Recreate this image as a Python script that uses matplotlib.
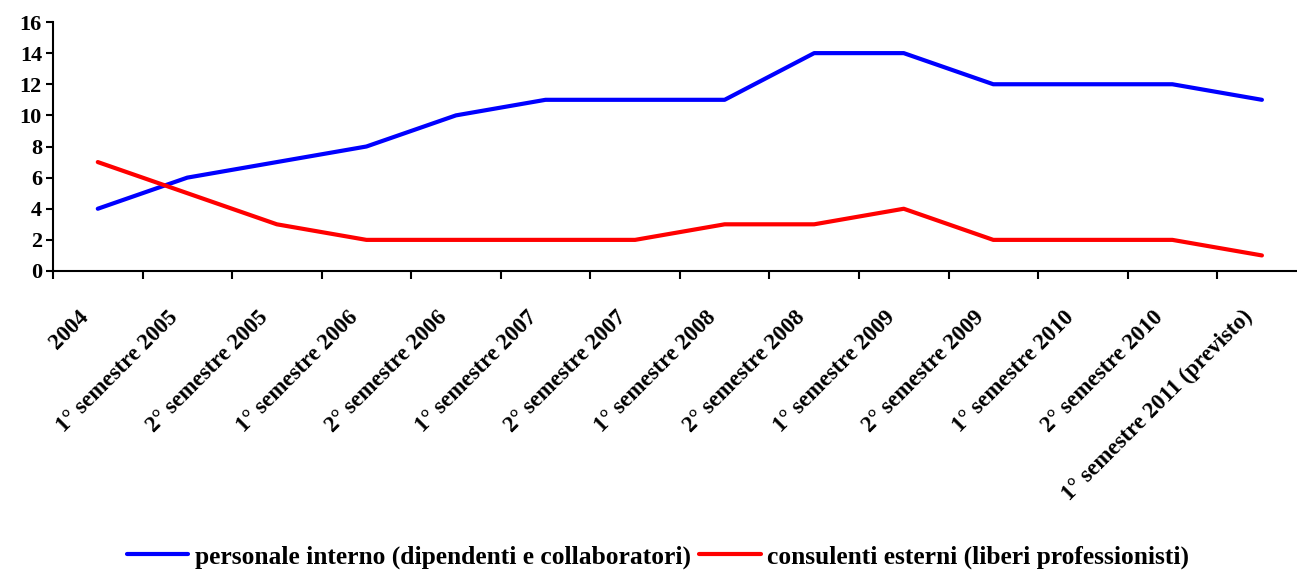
import matplotlib
matplotlib.use("Agg")
import matplotlib.pyplot as plt
import matplotlib.transforms as mtransforms
import numpy as np

categories = ["2004", "1° semestre 2005", "2° semestre 2005", "1° semestre 2006",
              "2° semestre 2006", "1° semestre 2007", "2° semestre 2007",
              "1° semestre 2008", "2° semestre 2008", "1° semestre 2009",
              "2° semestre 2009", "1° semestre 2010", "2° semestre 2010",
              "1° semestre 2011 (previsto)"]
interno = [4, 6, 7, 8, 10, 11, 11, 11, 14, 14, 12, 12, 12, 11]
esterni = [7, 5, 3, 2, 2, 2, 2, 3, 3, 4, 2, 2, 2, 1]
labels = ["personale interno (dipendenti e collaboratori)",
          "consulenti esterni (liberi professionisti)"]

plt.rcParams['font.family'] = ['Liberation Serif', 'DejaVu Serif']
plt.rcParams['font.weight'] = 'bold'

W, H = 1297, 574
fig = plt.figure(figsize=(W / 100, H / 100), dpi=100)
left = 53 / W
right = 53 + 14 * 89.55
ax = fig.add_axes([left, 1 - 271 / H, (right - 53) / W, (271 - 22) / H])

x = np.arange(len(categories))
l1, = ax.plot(x, interno, color='#0000FF', lw=3, solid_joinstyle='round', solid_capstyle='round')
l2, = ax.plot(x, esterni, color='#FF0000', lw=3, solid_joinstyle='round', solid_capstyle='round')

ax.set_xlim(-0.5, len(categories) - 0.5)
ax.set_ylim(0, 16)
ax.set_yticks(range(0, 17, 2))
ax.set_xticks(np.arange(-0.5, len(categories), 1.0))
ax.set_xticklabels([])
ax.set_xticks(x, minor=True)
ax.set_xticklabels(categories, minor=True, rotation=45, ha='right', va='center',
                   rotation_mode='anchor', fontsize=16.5, fontweight='bold')
ax.tick_params(axis='x', which='minor', length=0, pad=31)
ax.tick_params(axis='x', which='major', length=6, width=1.5, direction='out')
ax.tick_params(axis='y', length=5, width=1.5, labelsize=16, pad=3)
for lab in ax.get_yticklabels():
    lab.set_fontweight('bold')
offset = mtransforms.ScaledTranslation(-12 / 100, 0, fig.dpi_scale_trans)
for lab in ax.get_xticklabels(minor=True):
    lab.set_transform(lab.get_transform() + offset)

for s in ['top', 'right']:
    ax.spines[s].set_visible(False)
for s in ['left', 'bottom']:
    ax.spines[s].set_linewidth(1.5)

fig.legend([l1, l2], labels, loc='center', bbox_to_anchor=(658 / W, 1 - 557 / H),
           ncol=2, frameon=False, handlelength=2.4, handletextpad=0.25,
           columnspacing=0.35, prop={'weight': 'bold', 'size': 18.4})

fig.savefig("out.png", dpi=100)
